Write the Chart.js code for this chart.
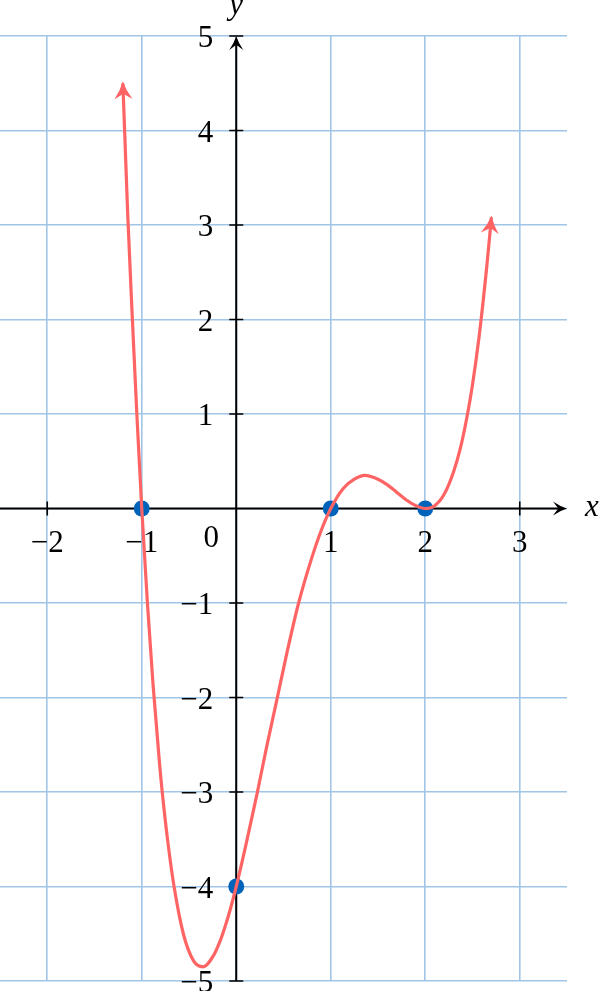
<!DOCTYPE html>
<html>
<head>
<meta charset="utf-8">
<title>Polynomial graph</title>
<script src="https://cdn.jsdelivr.net/npm/chart.js@4.4.1/dist/chart.umd.min.js"></script>
<style>
  body { margin: 0; background: #fff; }
  canvas { display: block; }
</style>
</head>
<body>
<canvas id="graph" width="601" height="991"></canvas>
<script>
// curve
const curveX = [-1.2, -1.18, -1.15, -1.1, -1.05, -1.0, -0.94, -0.88, -0.81, -0.76, -0.72, -0.66, -0.56, -0.45, -0.35, -0.24, -0.18, -0.12, -0.06,
  0, 0.1, 0.22, 0.32, 0.42, 0.54, 0.66, 0.8, 0.9, 1.0, 1.13, 1.25, 1.36, 1.5, 1.6, 1.7, 1.8, 1.9,
  2.0, 2.1, 2.2, 2.3, 2.37, 2.44, 2.5, 2.57, 2.65, 2.7];
const curveY = [4.5, 3.97, 3.15, 2.02, 0.96, 0, -1.0, -1.87, -2.72, -3.22, -3.56, -3.99, -4.5, -4.79, -4.85, -4.73, -4.6, -4.43, -4.23,
  -4.0, -3.57, -3.02, -2.53, -2.07, -1.51, -1.0, -0.52, -0.23, 0, 0.21, 0.31, 0.35, 0.31, 0.25, 0.17, 0.09, 0.03,
  0, 0.03, 0.15, 0.39, 0.63, 0.96, 1.31, 1.82, 2.55, 3.08];

// marked points
const dotX = [-1, 1, 2, 0];
const dotY = [0, 0, 0, -4];

// grid lines and tick labels
const xGrid = [-2, -1, 0, 1, 2, 3];
const yGrid = [-5, -4, -3, -2, -1, 0, 1, 2, 3, 4, 5];
const xTicks = [-2, -1, 1, 2, 3];
const yTicks = [-5, -4, -3, -2, -1, 1, 2, 3, 4, 5];
const xRange = [-2.5, 3.5];
const yRange = [-5, 5];

const RED = '#ff6464';
const BLUE = '#0063ba';
const GRID = '#a0c5e6';
const SERIF = "'Liberation Serif', 'DejaVu Serif', serif";

function fmt(n) {
  return n < 0 ? '\u2212' + Math.abs(n) : String(n);
}

function arrowHead(ctx, x, y, angle, len, half, notch, color) {
  ctx.save();
  ctx.translate(x, y);
  ctx.rotate(angle);
  ctx.beginPath();
  ctx.moveTo(0, 0);
  ctx.quadraticCurveTo(-len * 0.5, -half * 0.3, -len, -half);
  ctx.lineTo(-len * notch, 0);
  ctx.lineTo(-len, half);
  ctx.quadraticCurveTo(-len * 0.5, half * 0.3, 0, 0);
  ctx.closePath();
  ctx.fillStyle = color;
  ctx.fill();
  ctx.restore();
}

const axesPlugin = {
  id: 'axes',
  beforeDatasetsDraw(chart) {
    const ctx = chart.ctx;
    const x = chart.scales.x, y = chart.scales.y;
    const ox = x.getPixelForValue(0), oy = y.getPixelForValue(0);
    const xEnd = x.getPixelForValue(xRange[1]);
    const yTop = y.getPixelForValue(yRange[1]);
    const yBot = y.getPixelForValue(yRange[0]);

    ctx.save();
    ctx.strokeStyle = '#000';
    ctx.lineWidth = 2;
    ctx.beginPath();
    ctx.moveTo(chart.chartArea.left, oy);
    ctx.lineTo(xEnd - 6, oy);
    ctx.moveTo(ox, yBot);
    ctx.lineTo(ox, yTop + 6);
    ctx.stroke();
    arrowHead(ctx, xEnd, oy, 0, 14, 7, 0.62, '#000');
    arrowHead(ctx, ox, yTop, -Math.PI / 2, 14, 7, 0.62, '#000');

    // little ticks across the axes
    ctx.lineWidth = 1.6;
    ctx.beginPath();
    xTicks.forEach(v => {
      const px = x.getPixelForValue(v);
      ctx.moveTo(px, oy - 7);
      ctx.lineTo(px, oy + 7);
    });
    yTicks.forEach(v => {
      const py = y.getPixelForValue(v);
      ctx.moveTo(ox - 7, py);
      ctx.lineTo(ox + 7, py);
    });
    ctx.stroke();

    ctx.fillStyle = '#000';
    ctx.font = '31px ' + SERIF;
    ctx.textBaseline = 'alphabetic';
    ctx.textAlign = 'center';
    xTicks.forEach(v => ctx.fillText(fmt(v), x.getPixelForValue(v), oy + 43));
    ctx.textAlign = 'right';
    yTicks.forEach(v => ctx.fillText(fmt(v), ox - 23, y.getPixelForValue(v) + 11));
    ctx.textAlign = 'center';
    ctx.fillText('0', ox - 25, oy + 38);

    ctx.font = 'italic 31px ' + SERIF;
    ctx.fillText('y', ox, yTop - 22);
    ctx.fillText('x', xEnd + 25, oy + 7);
    ctx.restore();
  },
  afterDatasetsDraw(chart) {
    // arrow tips on both ends of the curve
    const pts = chart.getDatasetMeta(0).data;
    const ctx = chart.ctx;
    const ends = [[pts[0], pts[1]], [pts[pts.length - 1], pts[pts.length - 2]]];
    ends.forEach(([a, b]) => {
      const ang = Math.atan2(a.y - b.y, a.x - b.x);
      arrowHead(ctx, a.x + 2 * Math.cos(ang), a.y + 2 * Math.sin(ang), ang, 18, 9, 0.7, RED);
    });
  }
};

const curveData = curveX.map((v, i) => ({ x: v, y: curveY[i] }));
const dotData = dotX.map((v, i) => ({ x: v, y: dotY[i] }));

new Chart(document.getElementById('graph'), {
  type: 'scatter',
  data: {
    datasets: [
      {
        data: curveData,
        showLine: true,
        borderColor: RED,
        borderWidth: 3.2,
        pointRadius: 0,
        cubicInterpolationMode: 'monotone'
      },
      {
        data: dotData,
        pointRadius: 8,
        pointHoverRadius: 8,
        backgroundColor: BLUE,
        borderWidth: 0
      }
    ]
  },
  options: {
    responsive: false,
    animation: false,
    layout: { autoPadding: false, padding: { left: 0, right: 34, top: 36, bottom: 10 } },
    plugins: { legend: { display: false }, tooltip: { enabled: false } },
    scales: {
      x: {
        type: 'linear',
        min: xRange[0],
        max: xRange[1],
        afterBuildTicks: s => { s.ticks = xGrid.map(v => ({ value: v })); },
        grid: { color: GRID, lineWidth: 1.6, drawTicks: false },
        border: { display: false },
        ticks: { display: false }
      },
      y: {
        type: 'linear',
        min: yRange[0],
        max: yRange[1],
        afterBuildTicks: s => { s.ticks = yGrid.map(v => ({ value: v })); },
        grid: { color: GRID, lineWidth: 1.6, drawTicks: false },
        border: { display: false },
        ticks: { display: false }
      }
    }
  },
  plugins: [axesPlugin]
});
</script>
</body>
</html>
